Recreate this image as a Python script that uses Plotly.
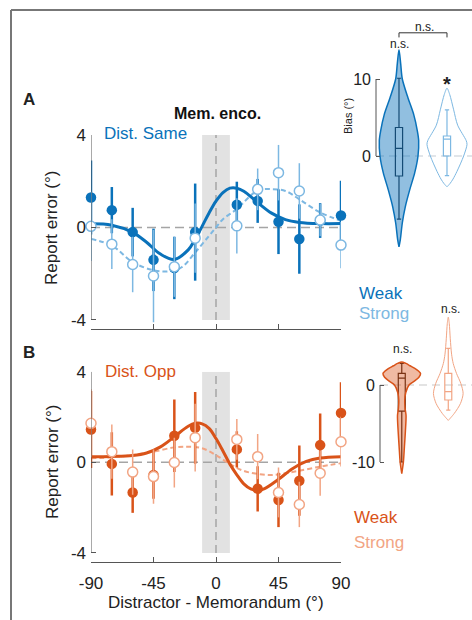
import plotly.graph_objects as go

W, H = 472, 620
FONT = "Liberation Sans, Arial, sans-serif"

# ---------------- data ----------------
dist = [-90, -75, -60, -45, -30, -15, 15, 30, 45, 60, 75, 90]
x_ticks = [-90, -45, 0, 45, 90]
x_tick_labels = ["-90", "-45", "0", "45", "90"]
y_ticks = [-4, 0, 4]
y_tick_labels = ["-4", "0", "4"]
bias_ticks_A = [0, 10]
bias_ticks_B = [-10, 0]

same_weak = [1.3, 0.75, -0.2, -1.4, -1.75, -0.2, 0.98, 1.15, 0.25, -0.5, 0.3, 0.52]
same_weak_err = [1.6, 1.0, 1.05, 1.35, 1.35, 2.1, 1.0, 0.95, 1.4, 1.5, 0.75, 1.5]
same_strong = [0.05, -0.72, -1.6, -2.1, -1.7, -0.46, 0.07, 1.65, 2.37, 1.58, 0.32, -0.76]
same_strong_err = [1.5, 1.08, 1.2, 2.0, 1.3, 1.5, 1.2, 0.9, 1.2, 1.2, 0.7, 1.0]

opp_weak = [1.45, -0.07, -1.33, -0.56, 1.17, 1.52, 0.57, -1.17, -1.66, -0.81, 0.76, 2.18]
opp_weak_err = [1.7, 1.4, 0.9, 1.05, 1.6, 1.58, 0.8, 1.0, 1.2, 1.55, 1.4, 1.35]
opp_strong = [1.72, 0.47, -0.43, -0.63, -0.01, 1.09, 1.01, 0.25, -1.33, -1.86, -0.48, 0.91]
opp_strong_err = [1.5, 1.2, 1.0, 1.2, 1.1, 1.5, 0.9, 1.0, 1.1, 1.0, 1.0, 1.1]

# fitted curves
fit_same_weak_x = [-90, -75, -60, -50, -40, -30, -20, -15, -10, -5, 0, 5, 10, 15, 20, 30, 40, 50, 60, 75, 90]
fit_same_weak_y = [0.16, 0.1, -0.21, -0.64, -1.15, -1.38, -0.97, -0.51, 0.05, 0.63, 1.14, 1.51, 1.7, 1.7, 1.57, 1.08, 0.62, 0.34, 0.22, 0.17, 0.17]
fit_same_strong_x = [-90, -75, -60, -45, -35, -25, -15, -5, 0, 5, 15, 30, 40, 50, 60, 75, 90]
fit_same_strong_y = [-0.5, -0.78, -1.5, -1.85, -1.9, -1.73, -1.08, -0.36, 0.0, 0.36, 0.8, 1.6, 1.66, 1.58, 1.22, 0.65, 0.29]
fit_opp_weak_x = [-90, -75, -60, -50, -40, -30, -20, -15, -10, -5, 0, 5, 10, 15, 20, 25, 30, 35, 45, 55, 65, 75, 90]
fit_opp_weak_y = [0.25, 0.26, 0.3, 0.41, 0.68, 1.13, 1.59, 1.72, 1.7, 1.5, 1.05, 0.5, -0.08, -0.55, -0.95, -1.17, -1.24, -1.16, -0.75, -0.28, 0.04, 0.19, 0.25]
fit_opp_strong_x = [-90, -75, -60, -45, -30, -20, -10, 0, 10, 20, 30, 40, 50, 60, 75, 90]
fit_opp_strong_y = [0.18, 0.22, 0.32, 0.47, 0.66, 0.69, 0.62, 0.32, -0.08, -0.38, -0.51, -0.56, -0.48, -0.37, -0.19, -0.04]

# violin profiles: levels (bias, deg) and half-widths (x units)
vA1_lev = [13.8, 12, 10, 7.5, 5.4, 3.3, 2, 0, -2.2, -4.4, -6.6, -8.7, -10.9, -11.8]
vA1_hw = [0, 0.035, 0.069, 0.19, 0.306, 0.381, 0.41, 0.396, 0.327, 0.223, 0.131, 0.069, 0.027, 0]
vA2_lev = [8.8, 8, 6, 4, 2, 1.5, 0, -2, -3, -3.6, -4]
vA2_hw = [0, 0.056, 0.139, 0.222, 0.4, 0.417, 0.347, 0.208, 0.125, 0.06, 0]
vB1_lev = [3.0, 2.8, 2.5, 2.0, 1.5, 1.0, 0.5, 0, -1, -2, -3, -4, -6, -8, -10, -11.5]
vB1_hw = [0, 0.09, 0.177, 0.319, 0.404, 0.369, 0.27, 0.156, 0.085, 0.064, 0.071, 0.092, 0.078, 0.057, 0.035, 0]
vB2_lev = [8.8, 8, 6, 4, 2.8, 1.5, 0.2, -1.1, -2.4, -3.7, -4.6]
vB2_hw = [0, 0.021, 0.043, 0.071, 0.106, 0.177, 0.27, 0.319, 0.262, 0.128, 0]

# box stats [q1, median, q3, lower whisker, upper whisker]
bA1 = [-2.6, 1.0, 3.7, -8.2, 10.1]
bA2 = [0.0, 2.2, 2.6, -2.55, 6.0]
bB1 = [-3.4, 0.9, 1.5, -10.0, 2.8]
bB2 = [-1.95, -0.87, 1.5, -3.25, 4.76]

BLUE = "#0A72BA"
LBLUE = "#7DB8E2"
ORANGE = "#D95319"
LORANGE = "#F2A584"
AX = "#555555"

fig = go.Figure()

def add_panel(xa, ya, fx_w, fy_w, fx_s, fy_s, yw, ew, ys, es, cw, cs):
    fig.add_trace(go.Scatter(x=fx_s, y=fy_s, mode="lines", xaxis=xa, yaxis=ya,
                             line=dict(color=cs, width=2, dash="5px,3px", shape="spline"),
                             showlegend=False, cliponaxis=False))
    fig.add_trace(go.Scatter(x=fx_w, y=fy_w, mode="lines", xaxis=xa, yaxis=ya,
                             line=dict(color=cw, width=3, shape="spline"),
                             showlegend=False, cliponaxis=False))
    fig.add_trace(go.Scatter(x=dist, y=yw, mode="markers", xaxis=xa, yaxis=ya,
                             marker=dict(color=cw, size=10.5, line=dict(width=0)),
                             error_y=dict(type="data", array=ew, thickness=2.5, width=0, color=cw),
                             showlegend=False, cliponaxis=False))
    fig.add_trace(go.Scatter(x=dist, y=ys, mode="markers", xaxis=xa, yaxis=ya,
                             marker=dict(color="white", size=10, line=dict(width=1.5, color=cs)),
                             error_y=dict(type="data", array=es, thickness=1.5, width=0, color=cs),
                             showlegend=False, cliponaxis=False))

add_panel("x", "y", fit_same_weak_x, fit_same_weak_y, fit_same_strong_x, fit_same_strong_y,
          same_weak, same_weak_err, same_strong, same_strong_err, BLUE, LBLUE)
add_panel("x2", "y2", fit_opp_weak_x, fit_opp_weak_y, fit_opp_strong_x, fit_opp_strong_y,
          opp_weak, opp_weak_err, opp_strong, opp_strong_err, ORANGE, LORANGE)

def add_violin(xa, ya, pos, lev, hw, fill, line, lw):
    xs = [pos + w for w in hw] + [pos - w for w in reversed(hw)]
    ys = list(lev) + list(reversed(lev))
    fig.add_trace(go.Scatter(x=xs, y=ys, mode="lines", xaxis=xa, yaxis=ya, fill="toself",
                             fillcolor=fill, line=dict(color=line, width=lw, shape="spline", smoothing=0.8),
                             showlegend=False, hoverinfo="skip", cliponaxis=False))

def add_box(xa, ya, pos, st, color):
    fig.add_trace(go.Box(x=[pos], q1=[st[0]], median=[st[1]], q3=[st[2]], lowerfence=[st[3]],
                         upperfence=[st[4]], width=0.15, whiskerwidth=0.6, orientation="v",
                         xaxis=xa, yaxis=ya, line=dict(color=color, width=1.2),
                         fillcolor="rgba(0,0,0,0)", showlegend=False))

add_violin("x3", "y3", 1, vA1_lev, vA1_hw, "rgba(10,114,186,0.45)", BLUE, 1.5)
add_violin("x3", "y3", 2, vA2_lev, vA2_hw, "rgba(255,255,255,0)", LBLUE, 1)
add_box("x3", "y3", 1, bA1, "#1d2c3c")
add_box("x3", "y3", 2, bA2, LBLUE)
add_violin("x4", "y4", 1, vB1_lev, vB1_hw, "rgba(217,83,25,0.4)", ORANGE, 1.5)
add_violin("x4", "y4", 2, vB2_lev, vB2_hw, "rgba(255,255,255,0)", LORANGE, 1)
add_box("x4", "y4", 1, bB1, "#3b1d10")
add_box("x4", "y4", 2, bB2, LORANGE)

tickfont = dict(family=FONT, size=17, color="#222")

def px(v):  # paper x from pixel
    return v / W

def py(v):  # paper y from pixel
    return 1 - v / H

xmain = dict(domain=[px(91), px(341)], range=[-90, 90], tickvals=x_ticks, ticktext=x_tick_labels,
             ticks="inside", ticklen=5, tickcolor=AX, showline=True, linecolor=AX, linewidth=1,
             showgrid=False, zeroline=False, tickfont=tickfont)
ymain = dict(tickvals=y_ticks, ticktext=y_tick_labels, ticks="inside", ticklen=5, tickcolor=AX,
             showline=False, showgrid=False, zeroline=False, tickfont=tickfont, ticklabelstandoff=4)
ins_font = dict(family=FONT, size=16, color="#222")

fig.update_layout(
    width=W, height=H, margin=dict(l=0, r=0, t=0, b=0, pad=0, autoexpand=False),
    paper_bgcolor="white", plot_bgcolor="rgba(0,0,0,0)",
    font=dict(family=FONT, color="#222"),
    xaxis=dict(xmain, anchor="y", showticklabels=False),
    yaxis=dict(ymain, anchor="x", domain=[py(329), py(135)], range=[-4.39, 4]),
    xaxis2=dict(xmain, anchor="y2", showticklabels=True, ticklabelstandoff=6),
    yaxis2=dict(ymain, anchor="x2", domain=[py(562), py(371.7)], range=[-4.4, 4]),
    xaxis3=dict(domain=[px(376), 1], range=[0.521, 2.521], anchor="y3", visible=False),
    yaxis3=dict(domain=[py(255), py(25)], range=[-12.857, 17.013], anchor="x3",
                tickvals=bias_ticks_A, ticktext=[str(v) for v in bias_ticks_A], ticks="inside",
                ticklen=4, tickcolor=AX, showline=False, showgrid=False, zeroline=False,
                tickfont=ins_font, ticklabelstandoff=4),
    xaxis4=dict(domain=[px(380), 1], range=[0.532, 2.51], anchor="y4", visible=False),
    yaxis4=dict(domain=[py(490), py(300)], range=[-13.636, 11.039], anchor="x4",
                tickvals=bias_ticks_B, ticktext=[str(v) for v in bias_ticks_B], ticks="inside",
                ticklen=4, tickcolor=AX, showline=False, showgrid=False, zeroline=False,
                tickfont=ins_font, ticklabelstandoff=4),
)

shapes = []
for xa, ya in [("x", "y"), ("x2", "y2")]:
    shapes.append(dict(type="rect", xref=xa, yref=ya, x0=-10, x1=10, y0=-4, y1=4,
                       fillcolor="#e2e2e2", line=dict(width=0), layer="below"))
    shapes.append(dict(type="line", xref=xa, yref=ya, x0=0, x1=0, y0=-4, y1=4,
                       line=dict(color="#a5a5a5", width=1.5, dash="8px,5px"), layer="below"))
    shapes.append(dict(type="line", xref=xa, yref=ya, x0=-90, x1=90, y0=0, y1=0,
                       line=dict(color="#a5a5a5", width=1.5, dash="9px,5px"), layer="below"))
    shapes.append(dict(type="line", xref=xa, yref=ya, x0=-90, x1=-90, y0=-4, y1=4,
                       line=dict(color=AX, width=1)))
# inset axes
shapes.append(dict(type="line", xref="x3 domain", yref="y3", x0=0, x1=0, y0=0, y1=10,
                   line=dict(color=AX, width=1)))
shapes.append(dict(type="line", xref="x3 domain", yref="y3", x0=0, x1=1, y0=0, y1=0,
                   line=dict(color="#c4ccd4", width=1.2, dash="8px,5px"), layer="below"))
shapes.append(dict(type="line", xref="x4 domain", yref="y4", x0=0, x1=0, y0=-10, y1=0,
                   line=dict(color=AX, width=1)))
shapes.append(dict(type="line", xref="x4 domain", yref="y4", x0=0, x1=1, y0=0, y1=0,
                   line=dict(color="#c8c8c8", width=1.2, dash="8px,5px"), layer="below"))
# significance bracket
shapes.append(dict(type="path", xref="x3", yref="y3",
                   path="M 1,15.4 L 1,16 L 2,16 L 2,15.4", line=dict(color="#333", width=1)))
# frame
shapes.append(dict(type="line", xref="paper", yref="paper", x0=px(11), x1=px(11), y0=0, y1=py(10),
                   line=dict(color="#777", width=2)))
shapes.append(dict(type="line", xref="paper", yref="paper", x0=px(11), x1=1, y0=py(10), y1=py(10),
                   line=dict(color="#777", width=2)))
fig.update_layout(shapes=shapes)

ann = []
def A(text, x, y, xanchor="center", size=17, color="#222", **kw):
    d = dict(text=text, xref="paper", yref="paper", x=px(x), y=py(y), xanchor=xanchor,
             yanchor="middle", showarrow=False, font=dict(family=FONT, size=size, color=color))
    d.update(kw)
    ann.append(d)

A("<b>A</b>", 29, 99)
A("<b>B</b>", 29, 352)
A("<b>Mem. enco.</b>", 217, 113, size=16, color="#111")
A("Dist. Same", 102, 134, xanchor="left", color=BLUE)
A("Dist. Opp", 103, 371, xanchor="left", color=ORANGE)
A("Report error (°)", 52, 228, textangle=-90)
A("Report error (°)", 52, 462, textangle=-90)
A("Distractor - Memorandum (°)", 216, 602)
A("Weak", 357, 293, xanchor="left", color=BLUE)
A("Strong", 357, 313, xanchor="left", color=LBLUE)
A("Weak", 352, 517, xanchor="left", color=ORANGE)
A("Strong", 352, 542, xanchor="left", color=LORANGE)
A("Bias (°)", 348, 116, size=11, textangle=-90)
A("n.s.", 424, 27, size=12)
A("n.s.", 399, 44, size=12)
A("<b>*</b>", 447, 84, size=20)
A("n.s.", 402, 349, size=12)
A("n.s.", 450, 309, size=12)
fig.update_layout(annotations=ann)

fig.write_html("out.html")
